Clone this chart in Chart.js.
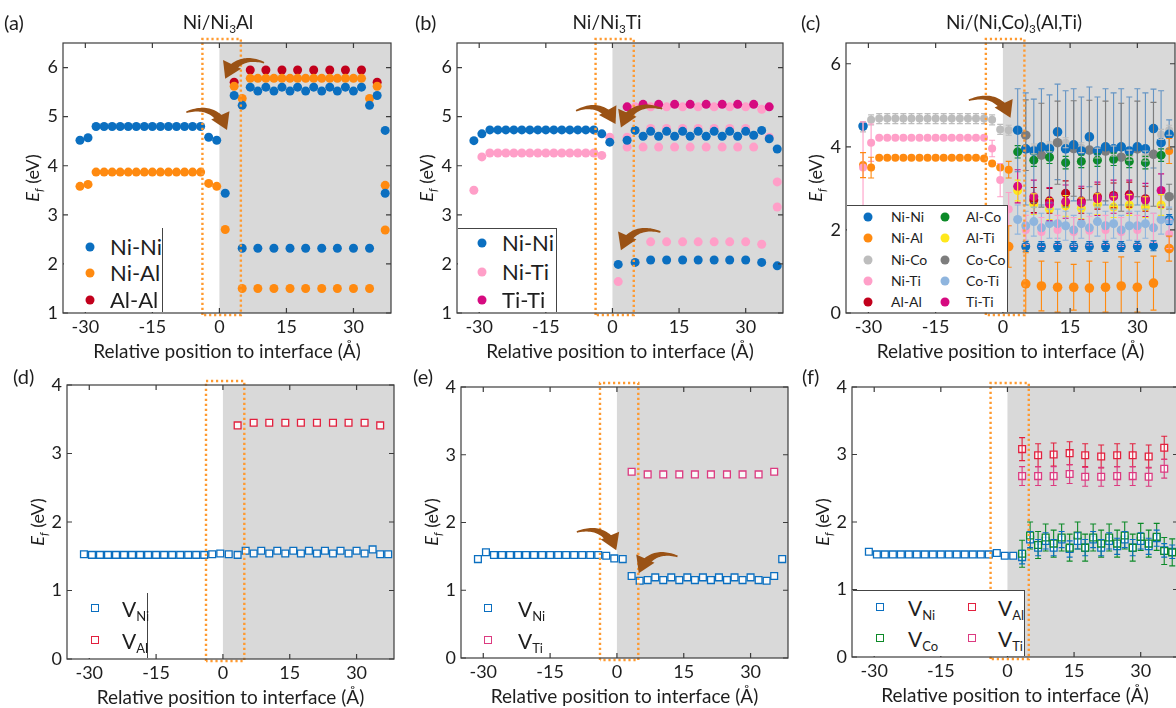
<!DOCTYPE html>
<html>
<head>
<meta charset="utf-8">
<script src="https://cdn.jsdelivr.net/npm/chart.js@4.4.1/dist/chart.umd.min.js"></script>
<style>
  body { margin:0; width:1176px; height:708px; overflow:hidden; position:relative; background:#fff; font-family:Lato, sans-serif; color:#1e1e1e; }
  canvas { position:absolute; }
  .lab { position:absolute; font-size:20px; line-height:1; }
  .ttl { position:absolute; font-size:19px; line-height:1; transform:translateX(-50%); white-space:nowrap; }
  .yt { position:absolute; width:120px; height:24px; line-height:24px; text-align:center; font-size:18px; transform:rotate(-90deg); white-space:nowrap; }
  .box { position:absolute; background:#fff; box-sizing:border-box; }
  .mk { position:absolute; width:9px; height:9px; border-radius:50%; transform:translate(-50%,-50%); }
  .ms { position:absolute; width:8px; height:8px; border:1.4px solid; background:#fff; transform:translate(-50%,-50%); box-sizing:border-box; }
  .lt { position:absolute; transform:translateY(-50%); white-space:nowrap; line-height:1; }
  sub { font-size:0.62em; vertical-align:-0.32em; line-height:0; }
</style>
</head>
<body>
<script>
Chart.defaults.font.family = 'Lato, sans-serif';
Chart.defaults.color = '#1e1e1e';

const _ = null;

// x positions of the atomic planes (Å): 18 planes in Ni, 21 on the precipitate side
const xPos = [-31.2, -29.4, -27.6, -25.8, -24.0, -22.2, -20.4, -18.6, -16.8, -15.0, -13.2, -11.4, -9.6, -7.8, -6.0, -4.2, -2.4, -0.6,
  1.3, 3.3, 5.1, 6.9, 8.6, 10.4, 12.2, 14.0, 15.8, 17.5, 19.3, 21.1, 22.9, 24.7, 26.4, 28.2, 30.0, 31.8, 33.6, 35.3, 37.1];
const xTicks = [-30, -15, 0, 15, 30];

// (a) Ni/Ni3Al
const a_NiNi = [4.52,4.57,4.80,4.80,4.80,4.80,4.80,4.80,4.80,4.80,4.80,4.80,4.80,4.80,4.80,4.80,4.58,4.52,
  3.44,5.43,5.23,5.60,5.52,5.60,5.52,5.60,5.52,5.60,5.52,5.60,5.52,5.60,5.52,5.60,5.52,5.60,5.23,5.43,4.72];
const a_NiNi2 = [_,_,_,_,_,_,_,_,_,_,_,_,_,_,_,_,_,_,
  _,_,2.32,_,2.32,_,2.32,_,2.32,_,2.32,_,2.32,_,2.32,_,2.32,_,2.32,_,3.44];
const a_NiAl = [3.58,3.62,3.87,3.87,3.87,3.87,3.87,3.87,3.87,3.87,3.87,3.87,3.87,3.87,3.87,3.87,3.64,3.58,
  2.70,5.62,5.37,5.78,5.78,5.78,5.78,5.78,5.78,5.78,5.78,5.78,5.78,5.78,5.78,5.78,5.78,5.78,5.37,5.62,3.60];
const a_NiAl2 = [_,_,_,_,_,_,_,_,_,_,_,_,_,_,_,_,_,_,
  _,_,1.50,_,1.50,_,1.50,_,1.50,_,1.50,_,1.50,_,1.50,_,1.50,_,1.50,_,2.69];
const a_AlAl = [_,_,_,_,_,_,_,_,_,_,_,_,_,_,_,_,_,_,
  _,5.70,_,5.95,_,5.95,_,5.95,_,5.95,_,5.95,_,5.95,_,5.95,_,5.95,_,5.70,_];

// (b) Ni/Ni3Ti
const b_NiNi = [4.51,4.65,4.73,4.73,4.73,4.73,4.73,4.73,4.73,4.73,4.73,4.73,4.73,4.73,4.73,4.73,4.65,4.48,
  _,4.52,4.72,4.60,4.70,4.60,4.70,4.60,4.70,4.60,4.70,4.60,4.70,4.60,4.70,4.60,4.70,4.62,4.72,4.55,4.34];
const b_NiNi2 = [_,_,_,_,_,_,_,_,_,_,_,_,_,_,_,_,_,_,
  1.99,_,2.03,_,2.08,_,2.08,_,2.08,_,2.08,_,2.08,_,2.08,_,2.08,_,2.03,_,1.96];
const b_NiTi = [3.50,4.18,4.26,4.26,4.26,4.26,4.26,4.26,4.26,4.26,4.26,4.26,4.26,4.26,4.26,4.26,4.21,4.58,
  1.64,4.58,_,4.38,4.76,4.38,4.76,4.38,4.76,4.38,4.76,4.38,4.76,4.38,4.76,4.38,4.76,4.38,_,4.58,3.67];
const b_NiTi2 = [_,_,_,_,_,_,_,_,_,_,_,_,_,_,_,_,_,_,
  _,4.38,5.20,_,5.20,_,5.20,_,5.20,_,5.20,_,5.20,_,5.20,_,5.20,_,5.15,_,3.16];
const b_NiTi3 = [_,_,_,_,_,_,_,_,_,_,_,_,_,_,_,_,_,_,
  _,_,_,_,2.45,_,2.45,_,2.45,_,2.45,_,2.45,_,2.45,_,2.45,_,2.40,_,_];
const b_TiTi = [_,_,_,_,_,_,_,_,_,_,_,_,_,_,_,_,_,_,
  _,5.20,_,5.25,_,5.25,_,5.25,_,5.25,_,5.25,_,5.25,_,5.25,_,5.25,_,5.20,_];

// (c) Ni/(Ni,Co)3(Al,Ti) : mean values and error half-widths
const c_NiCo = [4.48,4.65,4.68,4.68,4.68,4.68,4.68,4.68,4.68,4.68,4.68,4.68,4.68,4.68,4.68,4.68,4.65,4.42,
  4.40,_,_,3.95,_,4.00,_,4.10,_,3.98,_,3.85,_,3.90,_,3.80,_,3.78,_,4.30,4.40];
const c_NiCoErr = 0.12;
const c_NiNi = [4.50,_,_,_,_,_,_,_,_,_,_,_,_,_,_,_,_,_,
  _,4.40,3.95,3.90,4.00,3.95,4.36,3.95,4.05,3.90,4.24,3.90,4.00,3.95,4.00,3.90,4.00,3.95,4.44,4.10,4.30];
const c_NiNiErr = [_,_,_,_,_,_,_,_,_,_,_,_,_,_,_,_,_,_,
  _,1.00,1.35,1.25,1.40,1.30,1.15,1.40,1.35,1.30,1.20,1.30,1.40,1.35,1.40,1.30,1.40,1.35,0.95,1.25,0.35];
const c_NiNi2 = [_,_,_,_,_,_,_,_,_,_,_,_,_,_,_,_,_,_,
  _,_,1.60,_,1.60,_,1.60,_,1.60,_,1.60,_,1.60,_,1.60,_,1.60,_,1.62,_,2.25];
const c_NiNi2Err = 0.12;
const c_NiAl = [3.56,3.50,3.74,3.74,3.74,3.74,3.74,3.74,3.74,3.74,3.74,3.74,3.74,3.74,3.74,3.72,3.60,3.50,
  3.45,_,_,_,_,_,_,_,_,_,_,_,_,_,_,_,_,_,_,_,3.90];
const c_NiAlErr = [0.30,0.25,_,_,_,_,_,_,_,_,_,_,_,_,_,_,_,_,
  0.20,_,_,_,_,_,_,_,_,_,_,_,_,_,_,_,_,_,_,_,0.30];
const c_NiAl2 = [_,_,_,_,_,_,_,_,_,_,_,_,_,_,_,_,_,_,
  1.60,_,0.70,_,0.65,_,0.62,_,0.62,_,0.60,_,0.62,_,0.65,_,0.62,_,0.72,_,1.55];
const c_NiAl2Err = [_,_,_,_,_,_,_,_,_,_,_,_,_,_,_,_,_,_,
  0.50,_,0.75,_,0.60,_,0.60,_,0.55,_,0.65,_,0.60,_,0.70,_,0.60,_,0.65,_,0.30];
const c_NiTi = [3.50,4.10,4.22,4.22,4.22,4.22,4.22,4.22,4.22,4.22,4.22,4.22,4.22,4.22,4.22,4.22,3.96,3.20,
  2.50,_,2.00,_,1.95,_,2.00,_,1.95,_,1.98,_,2.00,_,1.95,_,2.00,_,2.05,_,1.90];
const c_NiTiErr = [1.10,0.45,_,_,_,_,_,_,_,_,_,_,_,_,_,_,0.20,0.40,
  0.40,_,0.35,_,0.35,_,0.35,_,0.35,_,0.35,_,0.35,_,0.35,_,0.35,_,0.35,_,0.35];
const c_AlAl = [_,_,_,_,_,_,_,_,_,_,_,_,_,_,_,_,_,_,
  _,_,_,2.72,_,2.70,_,2.88,_,2.70,_,2.80,_,2.83,_,2.85,_,2.75,_,_,_];
const c_AlCo = [_,_,_,_,_,_,_,_,_,_,_,_,_,_,_,_,_,_,
  _,3.88,_,3.68,_,3.75,_,3.62,_,3.65,_,3.68,_,3.70,_,3.65,_,3.62,_,3.80,_];
const c_AlTi = [_,_,_,_,_,_,_,_,_,_,_,_,_,_,_,_,_,_,
  _,2.95,_,2.62,_,2.50,_,2.58,_,2.52,_,2.62,_,2.55,_,2.60,_,2.55,_,2.60,_];
const c_CoCo = [_,_,_,_,_,_,_,_,_,_,_,_,_,_,_,_,_,_,
  _,_,4.28,_,3.80,_,4.10,_,3.96,_,3.92,_,3.90,_,3.75,_,3.95,_,3.82,_,2.80];
const c_CoCoErr = [_,_,_,_,_,_,_,_,_,_,_,_,_,_,_,_,_,_,
  _,_,0.85,_,1.25,_,1.00,_,1.15,_,1.20,_,1.20,_,1.30,_,1.15,_,1.25,_,0.30];
const c_CoTi = [_,_,_,_,_,_,_,_,_,_,_,_,_,_,_,_,_,_,
  _,2.25,2.10,2.20,2.05,2.15,2.15,2.10,2.00,2.15,2.05,2.20,2.10,2.15,2.00,2.10,2.10,2.15,2.05,2.25,2.20];
const c_TiTi = [_,_,_,_,_,_,_,_,_,_,_,_,_,_,_,_,_,_,
  _,3.05,_,2.80,_,2.62,_,2.68,_,2.65,_,2.75,_,2.80,_,2.80,_,2.72,_,2.95,_];

// (d) vacancies, Ni/Ni3Al
const d_VNi = [1.53,1.52,1.52,1.52,1.52,1.52,1.52,1.52,1.52,1.52,1.52,1.52,1.52,1.52,1.52,1.52,1.53,1.54,
  1.53,1.52,1.58,1.54,1.58,1.54,1.58,1.54,1.58,1.54,1.58,1.54,1.58,1.54,1.58,1.54,1.58,1.54,1.60,1.53,1.53];
const d_VAl = [_,_,_,_,_,_,_,_,_,_,_,_,_,_,_,_,_,_,
  _,3.41,_,3.45,_,3.45,_,3.45,_,3.45,_,3.45,_,3.45,_,3.45,_,3.45,_,3.41,_];

// (e) vacancies, Ni/Ni3Ti
const e_VNi = [1.46,1.56,1.52,1.52,1.52,1.52,1.52,1.52,1.52,1.52,1.52,1.52,1.52,1.52,1.52,1.52,1.51,1.47,
  1.46,1.21,1.14,1.15,1.19,1.15,1.19,1.15,1.19,1.15,1.19,1.15,1.19,1.15,1.19,1.15,1.19,1.15,1.14,1.21,1.46];
const e_VTi = [_,_,_,_,_,_,_,_,_,_,_,_,_,_,_,_,_,_,
  _,2.75,_,2.71,_,2.71,_,2.71,_,2.71,_,2.71,_,2.71,_,2.71,_,2.71,_,2.75,_];

// (f) vacancies, Ni/(Ni,Co)3(Al,Ti)
const f_VNi = [1.56,1.52,1.52,1.52,1.52,1.52,1.52,1.52,1.52,1.52,1.52,1.52,1.52,1.52,1.52,1.52,1.54,1.50,
  1.50,1.48,1.74,1.62,1.72,1.62,1.74,1.60,1.72,1.62,1.74,1.62,1.72,1.64,1.74,1.62,1.72,1.64,1.76,1.58,1.56];
const f_VNiErr = [_,_,_,_,_,_,_,_,_,_,_,_,_,_,_,_,_,_,
  _,0.10,0.12,0.12,0.12,0.12,0.12,0.12,0.12,0.12,0.12,0.12,0.12,0.12,0.12,0.12,0.12,0.12,0.12,0.10,0.10];
const f_VCo = [_,_,_,_,_,_,_,_,_,_,_,_,_,_,_,_,_,_,
  _,1.53,1.80,1.66,1.77,1.68,1.77,1.62,1.80,1.62,1.77,1.68,1.77,1.68,1.80,1.62,1.78,1.68,1.78,1.57,1.55];
const f_VCoErr = 0.2;
const f_VAl = [_,_,_,_,_,_,_,_,_,_,_,_,_,_,_,_,_,_,
  _,3.08,_,2.99,_,3.00,_,3.02,_,2.99,_,2.97,_,2.99,_,2.99,_,2.97,_,3.10,_];
const f_VAlErr = 0.17;
const f_VTi = [_,_,_,_,_,_,_,_,_,_,_,_,_,_,_,_,_,_,
  _,2.68,_,2.68,_,2.68,_,2.71,_,2.67,_,2.67,_,2.68,_,2.68,_,2.67,_,2.79,_];
const f_VTiErr = 0.14;

// curved arrows: tail x, tail y, tip x, tip y, bend side
const a_arrows = [[-7.4, 5.09, 1.7, 4.73, 1], [10, 6.1, 1.3, 5.77, -1]];
const b_arrows = [[-8.2, 5.12, 0.7, 4.85, 1], [11.2, 5.16, 1.9, 4.78, -1], [10.8, 2.65, 1.9, 2.28, -1]];
const c_arrows = [[-7.6, 5.12, 1.7, 4.70, 1]];
const e_arrows = [[-9, 1.86, -0.15, 1.59, 1], [13.6, 1.50, 4.9, 1.25, -1]];

const interfaceBox = [-3.8, 4.8];

const col = {
  blue: '#0b6fc0', orange: '#ff8a10', red: '#c2001c', pink: '#ff9fc8', magenta: '#d60a80',
  lgray: '#bdbdbd', green: '#0c8a28', yellow: '#ffe81c', dgray: '#7d7d7d', lblue: '#8fb5de',
  vred: '#e2203e', vmag: '#dc3a80'
};

function pts(ys, errs) {
  const out = [];
  ys.forEach((y, i) => {
    if (y === null) return;
    const e = Array.isArray(errs) ? errs[i] : errs;
    out.push({ x: xPos[i], y: y, e: e || 0 });
  });
  return out;
}
function circ(ys, color, errs, r, errColor) {
  return { data: pts(ys, errs), pointStyle: 'circle', pointRadius: r || 4.5, borderWidth: 0,
    backgroundColor: color, errColor: errColor || color };
}
function sq(ys, color, errs) {
  return { data: pts(ys, errs), pointStyle: 'rect', pointRadius: 4.8, borderWidth: 1.3,
    borderColor: color, backgroundColor: 'rgba(255,255,255,0.85)', errColor: color };
}

function drawArrow(ctx, xs, ys, a) {
  const p0 = { x: xs.getPixelForValue(a[0]), y: ys.getPixelForValue(a[1]) };
  const p2 = { x: xs.getPixelForValue(a[2]), y: ys.getPixelForValue(a[3]) };
  const dx = p2.x - p0.x, dy = p2.y - p0.y;
  const c = { x: (p0.x + p2.x) / 2 + a[4] * 0.45 * dy, y: (p0.y + p2.y) / 2 - a[4] * 0.45 * dx };
  const B = t => ({ x: (1-t)*(1-t)*p0.x + 2*(1-t)*t*c.x + t*t*p2.x, y: (1-t)*(1-t)*p0.y + 2*(1-t)*t*c.y + t*t*p2.y });
  const D = t => { const vx = 2*(1-t)*(c.x-p0.x) + 2*t*(p2.x-c.x), vy = 2*(1-t)*(c.y-p0.y) + 2*t*(p2.y-c.y); const l = Math.hypot(vx, vy); return { x: vx/l, y: vy/l }; };
  const hl = 16, hw = 10;
  let tEnd = 1;
  while (tEnd > 0.3) { const q = B(tEnd); if (Math.hypot(q.x - p2.x, q.y - p2.y) >= hl * 0.75) break; tEnd -= 0.01; }
  const left = [], right = [], N = 24;
  for (let i = 0; i <= N; i++) {
    const t = tEnd * i / N, p = B(t), u = D(t), w = 0.8 + 3.2 * i / N;
    left.push([p.x - u.y * w, p.y + u.x * w]);
    right.push([p.x + u.y * w, p.y - u.x * w]);
  }
  ctx.fillStyle = '#9a5215';
  ctx.beginPath();
  left.forEach((q, i) => i ? ctx.lineTo(q[0], q[1]) : ctx.moveTo(q[0], q[1]));
  right.reverse().forEach(q => ctx.lineTo(q[0], q[1]));
  ctx.closePath(); ctx.fill();
  const u = D(1), bx = p2.x - u.x * hl, by = p2.y - u.y * hl;
  ctx.beginPath();
  ctx.moveTo(p2.x, p2.y);
  ctx.lineTo(bx - u.y * hw, by + u.x * hw);
  ctx.lineTo(bx + u.y * hw, by - u.x * hw);
  ctx.closePath(); ctx.fill();
}

function deco(p) {
  return {
    id: 'deco' + p.id,
    beforeDatasetsDraw(chart) {
      const { ctx, chartArea: a, scales: { x } } = chart;
      const x0 = x.getPixelForValue(0);
      ctx.save();
      ctx.fillStyle = '#d9d9d9';
      ctx.fillRect(x0, a.top, a.right - x0, a.bottom - a.top);
      ctx.restore();
    },
    afterDatasetsDraw(chart) {
      const { ctx, chartArea: a, scales: { x, y } } = chart;
      ctx.save();
      ctx.beginPath(); ctx.rect(a.left, a.top, a.right - a.left, a.bottom - a.top); ctx.clip();
      // error bars
      chart.data.datasets.forEach((ds, i) => {
        const meta = chart.getDatasetMeta(i);
        ctx.strokeStyle = ds.errColor; ctx.lineWidth = 1.1;
        meta.data.forEach((el, j) => {
          const r = ds.data[j];
          if (!r.e) return;
          const y1 = y.getPixelForValue(r.y + r.e), y2 = y.getPixelForValue(r.y - r.e);
          ctx.beginPath();
          ctx.moveTo(el.x, y1); ctx.lineTo(el.x, y2);
          ctx.moveTo(el.x - 3, y1); ctx.lineTo(el.x + 3, y1);
          ctx.moveTo(el.x - 3, y2); ctx.lineTo(el.x + 3, y2);
          ctx.stroke();
        });
      });
      ctx.restore();
      // dotted interface box
      ctx.save();
      ctx.strokeStyle = '#ff9a30'; ctx.lineWidth = 2.4; ctx.setLineDash([2.2, 2.8]);
      const bl = x.getPixelForValue(interfaceBox[0]), br = x.getPixelForValue(interfaceBox[1]);
      const bt = a.top - 4, bb = a.bottom + 2;
      ctx.beginPath();
      ctx.moveTo(bl, bb); ctx.lineTo(bl, bt); ctx.lineTo(br, bt); ctx.lineTo(br, bb); ctx.lineTo(bl, bb);
      ctx.stroke();
      ctx.restore();
      // arrows
      ctx.save();
      (p.arrows || []).forEach(ar => drawArrow(ctx, x, y, ar));
      ctx.restore();
      // frame with inward ticks
      ctx.save();
      ctx.strokeStyle = '#3c3c3c'; ctx.lineWidth = 1.2;
      ctx.strokeRect(a.left, a.top, a.right - a.left, a.bottom - a.top);
      ctx.beginPath();
      xTicks.forEach(v => { const px = x.getPixelForValue(v); ctx.moveTo(px, a.bottom); ctx.lineTo(px, a.bottom - 5); ctx.moveTo(px, a.top); ctx.lineTo(px, a.top + 5); });
      p.yt.forEach(v => { const py = y.getPixelForValue(v); ctx.moveTo(a.left, py); ctx.lineTo(a.left + 5, py); ctx.moveTo(a.right, py); ctx.lineTo(a.right - 5, py); });
      ctx.stroke();
      ctx.restore();
    }
  };
}

function makeChart(p) {
  const cv = document.createElement('canvas');
  const cw = p.W + 54, ch = p.H + 66;
  cv.width = cw; cv.height = ch;
  cv.style.left = (p.L - 44) + 'px'; cv.style.top = (p.T - 16) + 'px';
  cv.style.width = cw + 'px'; cv.style.height = ch + 'px';
  document.body.appendChild(cv);
  new Chart(cv, {
    type: 'scatter',
    data: { datasets: p.sets },
    options: {
      responsive: false, animation: false, devicePixelRatio: 1, events: [],
      layout: { padding: { top: 16, right: 10, left: 0, bottom: 0 } },
      plugins: { legend: { display: false }, tooltip: { enabled: false } },
      scales: {
        x: {
          type: 'linear', min: -35, max: 38.4,
          afterBuildTicks: s => { s.ticks = xTicks.map(v => ({ value: v })); },
          afterFit: s => { s.height = 50; },
          grid: { display: false, drawTicks: false }, border: { display: false },
          ticks: { font: { size: 18 }, padding: 3, autoSkip: false, maxRotation: 0 },
          title: { display: true, text: 'Relative position to interface (Å)', font: { size: 19 }, padding: 0 }
        },
        y: {
          type: 'linear', min: p.y[0], max: p.y[1],
          afterBuildTicks: s => { s.ticks = p.yt.map(v => ({ value: v })); },
          afterFit: s => { s.width = 44; },
          grid: { display: false, drawTicks: false }, border: { display: false },
          ticks: { font: { size: 18 }, padding: 5 }
        }
      }
    },
    plugins: [deco(p)]
  });
}

makeChart({ id: 'a', L: 63, T: 43, W: 328, H: 270, y: [1, 6.5], yt: [1, 2, 3, 4, 5, 6], arrows: a_arrows,
  sets: [circ(a_NiNi, col.blue), circ(a_NiNi2, col.blue), circ(a_NiAl, col.orange), circ(a_NiAl2, col.orange), circ(a_AlAl, col.red)] });
makeChart({ id: 'b', L: 457, T: 43, W: 326, H: 270, y: [1, 6.5], yt: [1, 2, 3, 4, 5, 6], arrows: b_arrows,
  sets: [circ(b_NiNi, col.blue), circ(b_NiNi2, col.blue), circ(b_TiTi, col.magenta), circ(b_NiTi, col.pink), circ(b_NiTi2, col.pink), circ(b_NiTi3, col.pink)] });
makeChart({ id: 'c', L: 846, T: 43, W: 329, H: 270, y: [0, 6.5], yt: [0, 2, 4, 6], arrows: c_arrows,
  sets: [circ(c_TiTi, col.magenta, 0.4), circ(c_AlAl, col.red, 0.3), circ(c_AlCo, col.green, 0.15), circ(c_NiNi, col.blue, c_NiNiErr, 4.8, 'rgba(70,130,190,0.8)'),
    circ(c_CoCo, col.dgray, c_CoCoErr, 4.8), circ(c_NiCo, col.lgray, c_NiCoErr, 4), circ(c_AlTi, col.yellow, 0.25), circ(c_CoTi, col.lblue, 0.35),
    circ(c_NiTi, col.pink, c_NiTiErr, 4), circ(c_NiNi2, col.blue, c_NiNi2Err), circ(c_NiAl, col.orange, c_NiAlErr, 4), circ(c_NiAl2, col.orange, c_NiAl2Err, 4.8)] });
makeChart({ id: 'd', L: 67, T: 385, W: 327, H: 274, y: [0, 4], yt: [0, 1, 2, 3, 4],
  sets: [sq(d_VNi, col.blue), sq(d_VAl, col.vred)] });
makeChart({ id: 'e', L: 461, T: 387, W: 327, H: 271, y: [0, 4], yt: [0, 1, 2, 3, 4], arrows: e_arrows,
  sets: [sq(e_VNi, col.blue), sq(e_VTi, col.vmag)] });
makeChart({ id: 'f', L: 852, T: 387, W: 326, H: 270, y: [0, 4], yt: [0, 1, 2, 3, 4],
  sets: [sq(f_VCo, col.green, f_VCoErr), sq(f_VNi, col.blue, f_VNiErr), sq(f_VAl, col.vred, f_VAlErr), sq(f_VTi, col.vmag, f_VTiErr)] });

// ---- text and legends (HTML overlays) ----
function el(cls, html, css) {
  const d = document.createElement('div');
  d.className = cls; d.innerHTML = html || '';
  Object.assign(d.style, css);
  document.body.appendChild(d);
  return d;
}
[['(a)', 4, 12], ['(b)', 415, 12], ['(c)', 801, 12], ['(d)', 13, 366], ['(e)', 413, 366], ['(f)', 802, 366]]
  .forEach(t => el('lab', t[0], { left: t[1] + 'px', top: t[2] + 'px' }));
[['Ni/Ni<sub>3</sub>Al', 218], ['Ni/Ni<sub>3</sub>Ti', 607], ['Ni/(Ni,Co)<sub>3</sub>(Al,Ti)', 1014]]
  .forEach(t => el('ttl', t[0], { left: t[1] + 'px', top: '12px' }));
[[32, 178], [426, 178], [815, 178], [37, 522], [431, 522], [822, 522]]
  .forEach(t => el('yt', '<i>E</i><sub><i>f</i></sub> (eV)', { left: (t[0] - 60) + 'px', top: (t[1] - 12) + 'px' }));

function legendBox(l, t, r, b, sides) {
  const css = { left: l + 'px', top: t + 'px', width: (r - l) + 'px', height: (b - t) + 'px' };
  if (sides.includes('t')) css.borderTop = '1.2px solid #444';
  if (sides.includes('r')) css.borderRight = '1.2px solid #444';
  el('box', '', css);
}
function legend(items, mx, tx, ys, size, shape) {
  items.forEach((it, i) => {
    const m = el(shape === 'sq' ? 'ms' : 'mk', '', { left: mx + 'px', top: ys[i] + 'px' });
    if (shape === 'sq') m.style.borderColor = it[1]; else m.style.background = it[1];
    el('lt', it[0], { left: tx + 'px', top: ys[i] + 'px', fontSize: size + 'px' });
  });
}
legendBox(64, 228, 163, 312, 'r');
legend([['Ni-Ni', col.blue], ['Ni-Al', col.orange], ['Al-Al', col.red]], 90, 110, [247, 273, 300], 22);
legendBox(458, 228, 557, 312, 'tr');
legend([['Ni-Ni', col.blue], ['Ni-Ti', col.pink], ['Ti-Ti', col.magenta]], 482, 502, [243, 272, 300], 22);
legendBox(847, 205, 1008, 312, 'tr');
legend([['Ni-Ni', col.blue], ['Ni-Al', col.orange], ['Ni-Co', col.lgray], ['Ni-Ti', col.pink], ['Al-Al', col.red]], 868, 891, [217, 238, 260, 281, 302], 14);
legend([['Al-Co', col.green], ['Al-Ti', col.yellow], ['Co-Co', col.dgray], ['Co-Ti', col.lblue], ['Ti-Ti', col.magenta]], 945, 966, [217, 238, 260, 281, 302], 14);
legendBox(68, 593, 148, 658, 'r');
legend([['V<sub>Ni</sub>', col.blue], ['V<sub>Al</sub>', col.vred]], 95, 122, [608, 640], 21, 'sq');
legend([['V<sub>Ni</sub>', col.blue], ['V<sub>Ti</sub>', col.vmag]], 488, 518, [608, 640], 21, 'sq');
legendBox(853, 590, 1025, 656, 'tr');
legend([['V<sub>Ni</sub>', col.blue], ['V<sub>Co</sub>', col.green]], 880, 908, [607, 638], 21, 'sq');
legend([['V<sub>Al</sub>', col.vred], ['V<sub>Ti</sub>', col.vmag]], 972, 998, [607, 638], 21, 'sq');
</script>
</body>
</html>
